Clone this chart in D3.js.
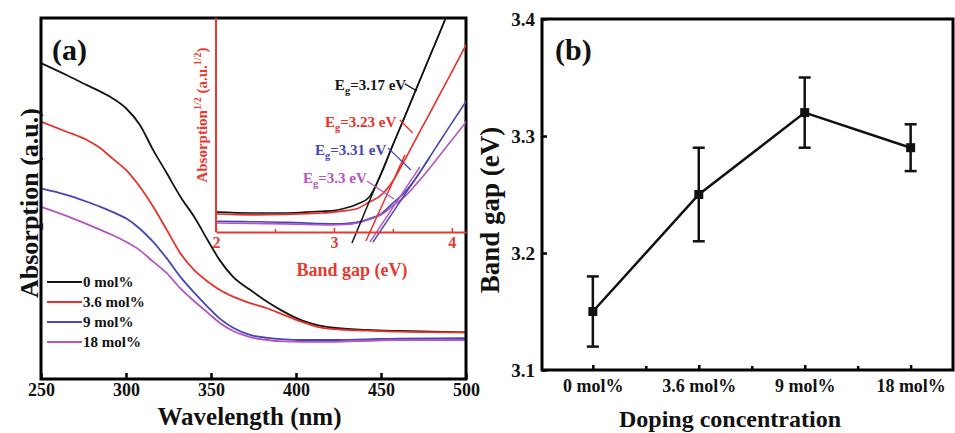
<!DOCTYPE html>
<html>
<head>
<meta charset="utf-8">
<script src="https://cdn.jsdelivr.net/npm/d3@7"></script>
<style>
  body { margin: 0; background: #fff; }
  svg { display: block; font-family: "Liberation Serif", "Times New Roman", Times, "DejaVu Serif", serif; font-weight: bold; }
</style>
</head>
<body>
<svg id="chart"></svg>
<script>
// ---- panel (a): absorption spectra ----
const wavelength = [250, 265, 277, 285, 292, 300, 308, 316, 324, 332, 340, 348, 355, 363, 373, 383, 393, 403, 412, 422, 442, 461, 500];
const abs0  = [.875, .842, .814, .796, .778, .750, .705, .634, .570, .505, .450, .385, .330, .283, .247, .214, .186, .163, .150, .142, .136, .133, .129];
const abs36 = [.713, .685, .662, .639, .611, .579, .533, .477, .413, .348, .302, .270, .247, .228, .210, .196, .177, .159, .145, .138, .134, .131, .129];
const abs9  = [.528, .510, .491, .477, .463, .445, .417, .380, .334, .283, .240, .200, .168, .142, .122, .114, .110, .108, .108, .108, .110, .112, .113];
const abs18 = [.477, .452, .429, .413, .399, .380, .357, .325, .293, .251, .216, .184, .156, .133, .116, .108, .104, .103, .103, .103, .106, .108, .108];
const seriesNames = ["0 mol%", "3.6 mol%", "9 mol%", "18 mol%"];
const seriesColors = ["#141414", "#e8302a", "#4646b4", "#b455c0"];
const wlTicks = [250, 300, 350, 400, 450, 500];

// inset: Tauc plot
const energy = [2.0, 2.3, 2.6, 2.85, 3.0, 3.1, 3.2, 3.3, 3.4, 3.5, 3.6, 3.7, 3.8, 3.9, 4.0, 4.12];
const tauc0  = [.093, .089, .089, .096, .100, .112, .131, .164, .270, .407, .537, .671, .804, .935, 1.07, 1.22];
const tauc36 = [.084, .080, .082, .088, .093, .100, .110, .140, .172, .238, .336, .440, .542, .645, .748, .874];
const tauc9  = [.050, .048, .045, .040, .038, .040, .046, .062, .085, .135, .185, .255, .340, .425, .510, .610];
const tauc18 = [.042, .040, .038, .034, .033, .035, .042, .058, .080, .122, .165, .225, .290, .360, .430, .514];
const tangents = [
  [[3.153, -0.051], [3.949, 1.0]],
  [[3.271, -0.042], [3.602, 0.360]],
  [[3.331, -0.047], [3.814, 0.350]],
  [[3.305, -0.047], [3.729, 0.304]]
];
const leaders = [
  [[3.602, .692], [3.703, .659]],
  [[3.559, .523], [3.669, .463]],
  [[3.458, .393], [3.653, .290]],
  [[3.280, .238], [3.508, .154]]
];
const gapValues = ["3.17", "3.23", "3.31", "3.3"];
const gapLabelPos = [[3.008, .664], [2.924, .491], [2.839, .360], [2.737, .229]];
const insetTicks = [2, 3, 4];
const insetMinor = [2.5, 3.5];

// ---- panel (b): band gap vs doping ----
const doping = ["0 mol%", "3.6 mol%", "9 mol%", "18 mol%"];
const bandGap = [3.15, 3.25, 3.32, 3.29];
const gapLow  = [3.12, 3.21, 3.29, 3.27];
const gapHigh = [3.18, 3.29, 3.35, 3.31];
const gapTicks = [3.1, 3.2, 3.3, 3.4];

const width = 955, height = 433;
const serif = '"Liberation Serif", "Times New Roman", Times, "DejaVu Serif", serif';
const svg = d3.select("#chart").attr("width", width).attr("height", height);
svg.append("rect").attr("width", width).attr("height", height).attr("fill", "#fff");

// ===== panel (a) =====
const xA = d3.scaleLinear([250, 500], [41, 466]);
const yA = d3.scaleLinear([0, 1], [379, 18]);

const absSeries = [abs0, abs36, abs9, abs18];
const lineA = d3.line().curve(d3.curveMonotoneX).x((d, i) => xA(wavelength[i])).y(d => yA(d));
svg.append("g").attr("fill", "none").attr("stroke-width", 1.8)
  .selectAll("path").data(absSeries).join("path")
    .attr("stroke", (d, i) => seriesColors[i])
    .attr("d", d => lineA(d));

svg.append("g")
    .attr("transform", `translate(0,${yA(0)})`)
    .call(d3.axisBottom(xA).tickValues(wlTicks).tickSize(-6).tickSizeOuter(0).tickPadding(4))
    .call(g => g.select(".domain").remove())
    .call(g => g.selectAll(".tick line").attr("stroke", "#000").attr("stroke-width", 2.5))
    .call(g => g.selectAll(".tick text").attr("font-size", 18).attr("fill", "#111")
      .attr("font-family", serif).attr("font-weight", "bold"));

svg.append("rect")
    .attr("x", xA(250)).attr("y", yA(1))
    .attr("width", xA(500) - xA(250)).attr("height", yA(0) - yA(1))
    .attr("fill", "none").attr("stroke", "#000").attr("stroke-width", 3);

svg.append("text").attr("x", (xA(250) + xA(500)) / 2 - 4).attr("y", 425)
    .attr("text-anchor", "middle").attr("font-size", 25).attr("fill", "#111")
    .text("Wavelength (nm)");
svg.append("text").attr("transform", "translate(38,203) rotate(-90)")
    .attr("text-anchor", "middle").attr("font-size", 26).attr("fill", "#111")
    .text("Absorption (a.u.)");
svg.append("text").attr("x", 52).attr("y", 60).attr("font-size", 30).attr("fill", "#111").text("(a)");

// legend
const legend = svg.append("g").selectAll("g").data(seriesNames).join("g")
    .attr("transform", (d, i) => `translate(47,${282 + i * 20})`);
legend.append("line").attr("x1", 0).attr("x2", 35)
    .attr("stroke", (d, i) => seriesColors[i]).attr("stroke-width", 2);
legend.append("text").attr("x", 36).attr("dy", "0.35em")
    .attr("font-size", 15).attr("fill", "#111").text(d => d);

// ===== inset =====
const inRed = "#e53a30";
const xI = d3.scaleLinear([2, 4.12], [216, 466]);
const yI = d3.scaleLinear([0, 1], [232, 18]);

svg.append("defs").append("clipPath").attr("id", "insetClip")
  .append("rect").attr("x", xI(2)).attr("y", yI(1)).attr("width", xI(4.12) - xI(2)).attr("height", yI(-0.06) - yI(1));

const inset = svg.append("g").attr("clip-path", "url(#insetClip)");
const lineI = d3.line().curve(d3.curveMonotoneX).x((d, i) => xI(energy[i])).y(d => yI(d));
inset.append("g").attr("fill", "none").attr("stroke-width", 1.6)
  .selectAll("path").data([tauc0, tauc36, tauc9, tauc18]).join("path")
    .attr("stroke", (d, i) => seriesColors[i])
    .attr("d", d => lineI(d));

const seg = d3.line().x(d => xI(d[0])).y(d => yI(d[1]));
inset.append("g").attr("fill", "none").attr("stroke-width", 1.5)
  .selectAll("path").data(tangents).join("path")
    .attr("stroke", (d, i) => seriesColors[i]).attr("d", seg);
inset.append("g").attr("fill", "none").attr("stroke-width", 1.3)
  .selectAll("path").data(leaders).join("path")
    .attr("stroke", (d, i) => seriesColors[i]).attr("d", seg);

// inset axes (red)
svg.append("line").attr("x1", xI(2)).attr("x2", xI(2)).attr("y1", yI(1)).attr("y2", yI(0))
    .attr("stroke", inRed).attr("stroke-width", 2);
svg.append("g")
    .attr("transform", `translate(0,${yI(0)})`)
    .call(d3.axisBottom(xI).tickValues(insetTicks).tickFormat(d3.format("d"))
      .tickSize(-4).tickSizeOuter(0).tickPadding(5))
    .call(g => g.select(".domain").attr("stroke", inRed).attr("stroke-width", 2))
    .call(g => g.selectAll(".tick line").attr("stroke", inRed).attr("stroke-width", 1.5))
    .call(g => g.selectAll(".tick text").attr("font-size", 16).attr("fill", inRed)
      .attr("font-family", serif).attr("font-weight", "bold"));
svg.append("g")
    .attr("transform", `translate(0,${yI(0)})`)
    .call(d3.axisBottom(xI).tickValues(insetMinor).tickSize(-3).tickFormat(""))
    .call(g => g.select(".domain").remove())
    .call(g => g.selectAll(".tick line").attr("stroke", inRed).attr("stroke-width", 1.5));

svg.append("text").attr("x", 352).attr("y", 276)
    .attr("text-anchor", "middle").attr("font-size", 18).attr("fill", inRed)
    .text("Band gap (eV)");

const yLab = svg.append("text").attr("transform", "translate(207,115) rotate(-90)")
    .attr("text-anchor", "middle").attr("font-size", 15).attr("fill", inRed);
yLab.append("tspan").text("Absorption");
yLab.append("tspan").attr("font-size", 10).attr("dy", -6).text("1/2");
yLab.append("tspan").attr("dy", 6).text(" (a.u.");
yLab.append("tspan").attr("font-size", 10).attr("dy", -6).text("1/2");
yLab.append("tspan").attr("dy", 6).text(")");

// Eg labels
const gapText = svg.append("g").selectAll("text").data(gapValues).join("text")
    .attr("x", (d, i) => xI(gapLabelPos[i][0]))
    .attr("y", (d, i) => yI(gapLabelPos[i][1]))
    .attr("font-size", 15)
    .attr("fill", (d, i) => seriesColors[i]);
gapText.append("tspan").text("E");
gapText.append("tspan").attr("font-size", 10.5).attr("dy", 4).text("g");
gapText.append("tspan").attr("dy", -4).text(d => `=${d} eV`);

// ===== panel (b) =====
const xB = d3.scaleLinear([-0.48, 3.4], [542, 953]);
const yB = d3.scaleLinear([3.1, 3.4], [370, 19]);

svg.append("g")
    .attr("transform", `translate(0,${yB(3.1)})`)
    .call(d3.axisBottom(xB).tickValues(d3.range(doping.length)).tickFormat(i => doping[i])
      .tickSize(-5).tickSizeOuter(0).tickPadding(9))
    .call(g => g.select(".domain").remove())
    .call(g => g.selectAll(".tick line").attr("stroke", "#000").attr("stroke-width", 2.5))
    .call(g => g.selectAll(".tick text").attr("font-size", 18).attr("fill", "#111")
      .attr("font-family", serif).attr("font-weight", "bold"));
svg.append("g")
    .attr("transform", `translate(0,${yB(3.1)})`)
    .call(d3.axisBottom(xB).tickValues([0.5, 1.5, 2.5]).tickSize(-4).tickFormat(""))
    .call(g => g.select(".domain").remove())
    .call(g => g.selectAll(".tick line").attr("stroke", "#000").attr("stroke-width", 2.5));

svg.append("g")
    .attr("transform", `translate(${xB(-0.48)},0)`)
    .call(d3.axisLeft(yB).tickValues(gapTicks).tickFormat(d3.format(".1f"))
      .tickSize(-5).tickSizeOuter(0).tickPadding(7))
    .call(g => g.select(".domain").remove())
    .call(g => g.selectAll(".tick line").attr("stroke", "#000").attr("stroke-width", 2.5))
    .call(g => g.selectAll(".tick text").attr("font-size", 19).attr("fill", "#111")
      .attr("font-family", serif).attr("font-weight", "bold"));

svg.append("rect")
    .attr("x", xB(-0.48)).attr("y", yB(3.4))
    .attr("width", xB(3.4) - xB(-0.48)).attr("height", yB(3.1) - yB(3.4))
    .attr("fill", "none").attr("stroke", "#000").attr("stroke-width", 3);

svg.append("path")
    .attr("fill", "none").attr("stroke", "#111").attr("stroke-width", 2.5)
    .attr("d", d3.line().x((d, i) => xB(i)).y(d => yB(d))(bandGap));

const err = svg.append("g").attr("stroke", "#111").attr("stroke-width", 2.5)
  .selectAll("g").data(bandGap).join("g");
err.append("line").attr("x1", (d, i) => xB(i)).attr("x2", (d, i) => xB(i))
    .attr("y1", (d, i) => yB(gapLow[i])).attr("y2", (d, i) => yB(gapHigh[i]));
err.append("line").attr("x1", (d, i) => xB(i) - 6).attr("x2", (d, i) => xB(i) + 6)
    .attr("y1", (d, i) => yB(gapLow[i])).attr("y2", (d, i) => yB(gapLow[i]));
err.append("line").attr("x1", (d, i) => xB(i) - 6).attr("x2", (d, i) => xB(i) + 6)
    .attr("y1", (d, i) => yB(gapHigh[i])).attr("y2", (d, i) => yB(gapHigh[i]));

svg.append("g").selectAll("rect").data(bandGap).join("rect")
    .attr("x", (d, i) => xB(i) - 4.5).attr("y", d => yB(d) - 4.5)
    .attr("width", 9).attr("height", 9).attr("fill", "#111");

svg.append("text").attr("x", 730).attr("y", 427)
    .attr("text-anchor", "middle").attr("font-size", 24).attr("fill", "#111")
    .text("Doping concentration");
svg.append("text").attr("transform", "translate(499,210) rotate(-90)")
    .attr("text-anchor", "middle").attr("font-size", 27).attr("fill", "#111")
    .text("Band gap (eV)");
svg.append("text").attr("x", 555).attr("y", 60).attr("font-size", 30).attr("fill", "#111").text("(b)");
</script>
</body>
</html>
